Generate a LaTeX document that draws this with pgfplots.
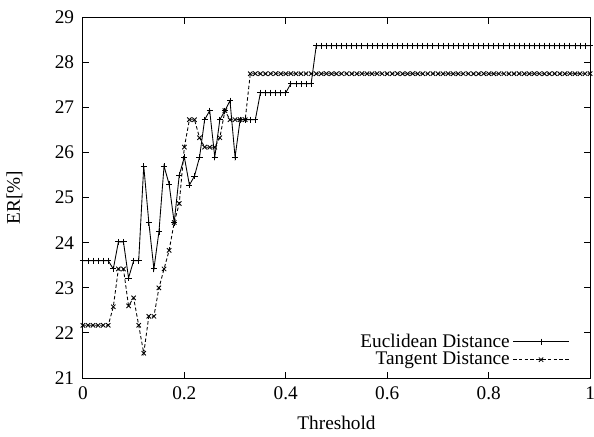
\documentclass[border=0pt]{standalone}
\usepackage{fontspec}
\setmainfont{Liberation Serif}
\usepackage{pgfplots}
\pgfplotsset{compat=1.18}

\pgfplotstableread{
x y
0.00 23.6
0.01 23.6
0.02 23.6
0.03 23.6
0.04 23.6
0.05 23.6
0.06 23.42
0.07 24.02
0.08 24.02
0.09 23.22
0.10 23.6
0.11 23.6
0.12 25.7
0.13 24.45
0.14 23.42
0.15 24.25
0.16 25.7
0.17 25.3
0.18 24.45
0.19 25.5
0.20 25.9
0.21 25.28
0.22 25.48
0.23 25.9
0.24 26.73
0.25 26.93
0.26 25.9
0.27 26.73
0.28 26.93
0.29 27.15
0.30 25.9
0.31 26.73
0.32 26.73
0.33 26.73
0.34 26.73
0.35 27.33
0.36 27.33
0.37 27.33
0.38 27.33
0.39 27.33
0.40 27.33
0.41 27.53
0.42 27.53
0.43 27.53
0.44 27.53
0.45 27.53
0.46 28.37
0.47 28.37
0.48 28.37
0.49 28.37
0.50 28.37
0.51 28.37
0.52 28.37
0.53 28.37
0.54 28.37
0.55 28.37
0.56 28.37
0.57 28.37
0.58 28.37
0.59 28.37
0.60 28.37
0.61 28.37
0.62 28.37
0.63 28.37
0.64 28.37
0.65 28.37
0.66 28.37
0.67 28.37
0.68 28.37
0.69 28.37
0.70 28.37
0.71 28.37
0.72 28.37
0.73 28.37
0.74 28.37
0.75 28.37
0.76 28.37
0.77 28.37
0.78 28.37
0.79 28.37
0.80 28.37
0.81 28.37
0.82 28.37
0.83 28.37
0.84 28.37
0.85 28.37
0.86 28.37
0.87 28.37
0.88 28.37
0.89 28.37
0.90 28.37
0.91 28.37
0.92 28.37
0.93 28.37
0.94 28.37
0.95 28.37
0.96 28.37
0.97 28.37
0.98 28.37
0.99 28.37
1.00 28.37
}\euclid

\pgfplotstableread{
x y
0.00 22.17
0.01 22.17
0.02 22.17
0.03 22.17
0.04 22.17
0.05 22.17
0.06 22.58
0.07 23.42
0.08 23.42
0.09 22.6
0.10 22.78
0.11 22.17
0.12 21.55
0.13 22.37
0.14 22.37
0.15 23.0
0.16 23.42
0.17 23.83
0.18 24.45
0.19 24.87
0.20 26.12
0.21 26.73
0.22 26.73
0.23 26.33
0.24 26.12
0.25 26.12
0.26 26.12
0.27 26.33
0.28 26.93
0.29 26.73
0.30 26.73
0.31 26.73
0.32 26.73
0.33 27.75
0.34 27.75
0.35 27.75
0.36 27.75
0.37 27.75
0.38 27.75
0.39 27.75
0.40 27.75
0.41 27.75
0.42 27.75
0.43 27.75
0.44 27.75
0.45 27.75
0.46 27.75
0.47 27.75
0.48 27.75
0.49 27.75
0.50 27.75
0.51 27.75
0.52 27.75
0.53 27.75
0.54 27.75
0.55 27.75
0.56 27.75
0.57 27.75
0.58 27.75
0.59 27.75
0.60 27.75
0.61 27.75
0.62 27.75
0.63 27.75
0.64 27.75
0.65 27.75
0.66 27.75
0.67 27.75
0.68 27.75
0.69 27.75
0.70 27.75
0.71 27.75
0.72 27.75
0.73 27.75
0.74 27.75
0.75 27.75
0.76 27.75
0.77 27.75
0.78 27.75
0.79 27.75
0.80 27.75
0.81 27.75
0.82 27.75
0.83 27.75
0.84 27.75
0.85 27.75
0.86 27.75
0.87 27.75
0.88 27.75
0.89 27.75
0.90 27.75
0.91 27.75
0.92 27.75
0.93 27.75
0.94 27.75
0.95 27.75
0.96 27.75
0.97 27.75
0.98 27.75
0.99 27.75
1.00 27.75
}\tangent

\begin{document}
\begin{tikzpicture}[trim right=265pt]
\begin{axis}[
    scale only axis,
    width=263pt,
    height=187pt,
    xmin=0, xmax=1,
    ymin=21, ymax=29,
    xtick={0,0.2,0.4,0.6,0.8,1},
    xticklabels={0,0.2,0.4,0.6,0.8,1},
    ytick={21,22,...,29},
    tick align=inside,
    major tick length=3.2pt,
    axis line style={line width=0.5pt},
    tick style={line width=0.5pt, black},
    /pgf/number format/assume math mode=true,
    xticklabel style={yshift=-1pt},
    yticklabel style={xshift=-1pt},
    xlabel={Threshold},
    ylabel={ER[\%]},
    xlabel style={at={(axis description cs:0.5,-0.125)}, anchor=center},
    ylabel style={at={(axis description cs:-0.135,0.5)}, anchor=center},
    legend plot pos=right,
    legend cell align=right,
    legend style={draw=none, fill=none, at={(0.96,0.02)}, anchor=south east,
        row sep=-2pt, inner sep=0pt,
        nodes={inner sep=1.5pt}},
    legend image code/.code={%
        \draw[mark repeat=2, mark phase=2, #1] plot coordinates {(3pt,0pt) (17.5pt,0pt) (32pt,0pt)};},
]
\addplot[black, line width=0.45pt, mark=+, mark size=1.6pt] table {\euclid};
\addlegendentry{Euclidean Distance}
\addplot[black, line width=0.45pt, dash pattern=on 1.8pt off 1.2pt, mark=x, mark size=1.6pt,
    mark options={solid}] table {\tangent};
\addlegendentry{Tangent Distance}
\end{axis}
\path (0pt,196pt);
\end{tikzpicture}
\end{document}
